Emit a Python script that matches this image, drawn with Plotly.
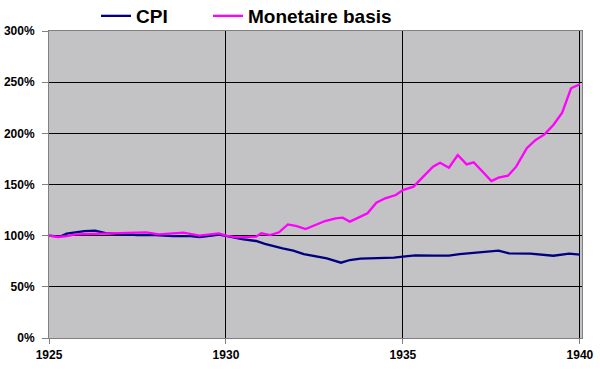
import plotly.graph_objects as go

# Monetary basis (index, % of 1925)
mb_years = [1925.00, 1925.25, 1925.50, 1925.75, 1926.50, 1927.00, 1927.50, 1927.75, 1928.10, 1928.50,
            1928.80, 1929.25, 1929.60, 1929.80, 1930.00, 1930.30, 1930.85, 1931.00, 1931.25, 1931.50,
            1931.75, 1932.00, 1932.25, 1932.50, 1932.80, 1933.10, 1933.30, 1933.50, 1933.75, 1934.00,
            1934.25, 1934.50, 1934.80, 1935.00, 1935.30, 1935.85, 1936.05, 1936.30, 1936.55, 1936.80,
            1937.00, 1937.50, 1937.70, 1937.97, 1938.20, 1938.50, 1938.75, 1939.00, 1939.25, 1939.50,
            1939.75, 1940.00]
mb_values = [100, 98.7, 99.5, 101.3, 102, 102.5, 102.5, 103.3, 101.3, 102,
             103, 100, 101.5, 102.3, 100, 98.4, 99, 102.3, 100.6, 103.3,
             111, 109.4, 106.5, 110.4, 114.3, 117, 117.6, 113.7, 118, 121.9,
             132.2, 136.5, 139.7, 144.6, 147.9, 167.4, 171.3, 166.4, 178.8, 169.7,
             171.7, 153.4, 156.7, 158.6, 167.4, 185.4, 193.5, 199, 208.2, 220.2,
             244, 247.9]

# Consumer price index (% of 1925)
cpi_years = [1925.00, 1925.30, 1925.50, 1926.00, 1926.30, 1926.60, 1927.00, 1927.50, 1928.00, 1928.50,
             1929.00, 1929.25, 1929.60, 1929.80, 1930.00, 1930.45, 1930.85, 1931.10, 1931.60, 1931.90,
             1932.20, 1932.60, 1932.85, 1933.25, 1933.50, 1933.80, 1934.30, 1934.75, 1935.00, 1935.35,
             1935.90, 1936.30, 1936.60, 1937.20, 1937.70, 1938.00, 1938.60, 1939.25, 1939.70, 1940.00]
cpi_values = [100, 99, 102, 104.5, 105, 102.5, 101.5, 100.5, 100.5, 99.5,
              99.5, 98.7, 100, 101, 99.7, 96.7, 94.8, 91.9, 87.6, 85.3,
              82, 79.5, 77.9, 73.6, 76.2, 77.5, 77.9, 78.5, 79.5, 80.8,
              80.4, 80.4, 82, 83.7, 85.3, 82.7, 82.4, 80.4, 82.4, 81.4]

x_ticks = [1925, 1930, 1935, 1940]
y_ticks = [0, 50, 100, 150, 200, 250, 300]
y_labels = [f"{v}%" for v in y_ticks]

W, H = 600, 371
ML, MR, MB = 49, 18, 33
PLOT_TOP = 31
paper_h = H - MB
paper_w = W - ML - MR

def px_x(px):
    return (px - ML) / paper_w

def px_y(py):
    return (paper_h - py) / paper_h

fig = go.Figure()
fig.add_trace(go.Scatter(x=cpi_years, y=cpi_values, mode="lines", name="CPI",
                         line=dict(color="#000080", width=2.3), legend="legend"))
fig.add_trace(go.Scatter(x=mb_years, y=mb_values, mode="lines", name="Monetaire basis",
                         line=dict(color="#FF00FF", width=2.3), legend="legend2"))

font_family = "Liberation Sans, Arial, sans-serif"
leg_font = dict(size=19, family=font_family, weight="bold", color="black")
fig.update_layout(
    width=W, height=H,
    margin=dict(l=ML, r=MR, t=0, b=MB, autoexpand=False),
    paper_bgcolor="white",
    plot_bgcolor="#C3C2C4",
    font=dict(family=font_family, color="black"),
    showlegend=True,
    legend=dict(orientation="h", x=px_x(96), xanchor="left", y=px_y(16), yanchor="middle",
                font=leg_font, bgcolor="rgba(0,0,0,0)"),
    legend2=dict(orientation="h", x=px_x(208), xanchor="left", y=px_y(16), yanchor="middle",
                 font=leg_font, bgcolor="rgba(0,0,0,0)"),
    xaxis=dict(range=[1925, 1940.06], tickvals=x_ticks, ticktext=[str(v) for v in x_ticks],
               showgrid=True, gridcolor="#000000", gridwidth=1,
               ticks="outside", ticklen=5, tickcolor="#808080", ticklabelstandoff=1,
               tickfont=dict(size=12, weight="bold"), automargin=False,
               showline=True, linecolor="#808080", linewidth=1, mirror=True,
               zeroline=False),
    yaxis=dict(range=[0, 300], tickvals=y_ticks, ticktext=y_labels,
               domain=[0, (paper_h - PLOT_TOP) / paper_h],
               showgrid=True, gridcolor="#000000", gridwidth=1,
               ticks="outside", ticklen=6, tickcolor="#808080", ticklabelstandoff=5,
               tickfont=dict(size=12, weight="bold"), automargin=False,
               showline=True, linecolor="#808080", linewidth=1, mirror=True,
               zeroline=False),
)

fig.write_html("out.html", config={"displayModeBar": False},
               post_script="document.body.style.margin='0px';document.body.style.overflow='hidden';")
